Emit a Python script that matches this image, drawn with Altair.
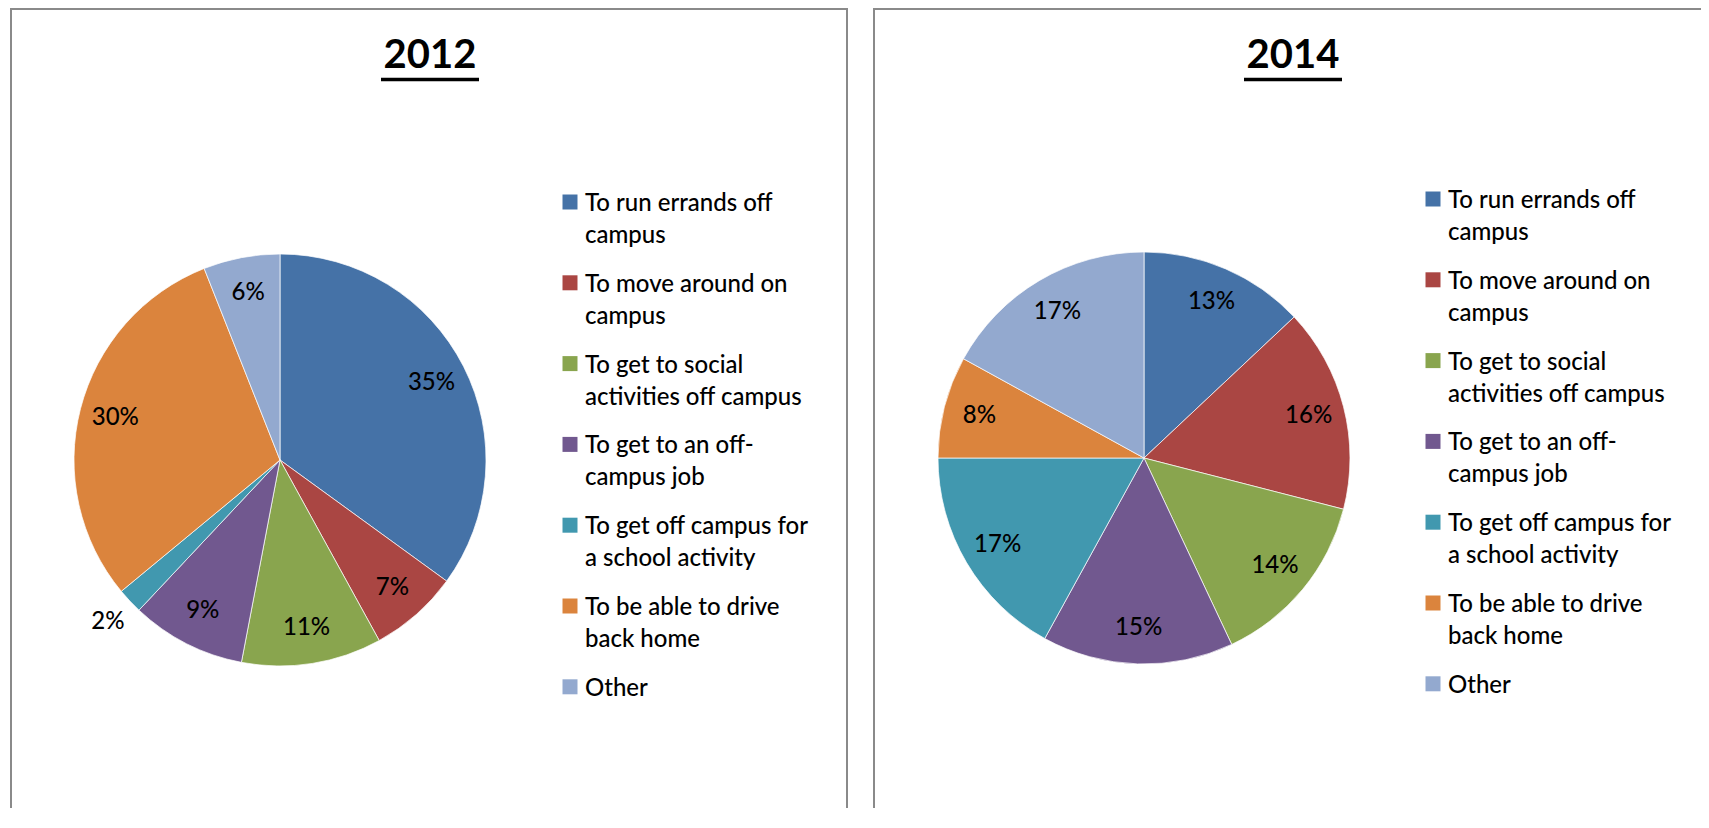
import altair as alt
import pandas as pd

categories = [
    "To run errands off campus",
    "To move around on campus",
    "To get to social activities off campus",
    "To get to an off-campus job",
    "To get off campus for a school activity",
    "To be able to drive back home",
    "Other",
]
legend_lines = [
    "To run errands off|campus",
    "To move around on|campus",
    "To get to social|activities off campus",
    "To get to an off-|campus job",
    "To get off campus for|a school activity",
    "To be able to drive|back home",
    "Other",
]
values_2012 = [35, 7, 11, 9, 2, 30, 6]
values_2014 = [13, 16, 14, 15, 17, 8, 17]
years = ["2012", "2014"]
colors = ["#4572A7", "#AA4643", "#89A54E", "#71588F", "#4198AF", "#DB843D", "#93A9CF"]

FONT = "Lato"
H = 800


def panel(year, values, width, cx, cy, leg_y0):
    df = pd.DataFrame({
        "category": categories,
        "value": values,
        "idx": list(range(len(categories))),
        "wrapped": legend_lines,
    })
    base = alt.Chart(df).transform_calculate(
        label="datum.value + '%'",
        lines="split(datum.wrapped, '|')",
    )
    color = alt.Color("category:N", scale=alt.Scale(domain=categories, range=colors), legend=None)
    theta = alt.Theta("value:Q", stack=True)
    order = alt.Order("idx:Q")

    arcs = base.mark_arc(outerRadius=206, x=cx, y=cy, stroke="white", strokeWidth=0.7).encode(
        theta=theta, color=color, order=order
    )
    labels = base.mark_text(
        x=cx, y=cy, font=FONT, fontSize=24, fontWeight=500, color="black",
        radius=alt.expr("datum.value < 5 ? 236 : 170"),
    ).encode(theta=theta, detail="category:N", order=order, text="label:N")

    yenc = alt.Y(
        "category:N",
        scale=alt.Scale(domain=categories, range=[leg_y0, leg_y0 + 6 * 80.8], padding=0),
        axis=None,
    )
    squares = base.mark_square(size=225, x=560, opacity=1, filled=True).encode(y=yenc, color=color)
    leg_text = base.mark_text(
        x=575, align="left", baseline="top", dy=-10, font=FONT, fontSize=24, fontWeight=500,
        lineHeight=32, color="black",
    ).encode(y=yenc, text="lines:N")

    one = alt.Data(values=[{"year": year}])
    title_text = alt.Chart(one).mark_text(
        x=420, y=60, font=FONT, fontWeight="bold", fontSize=40,
        baseline="alphabetic", align="center", color="black",
    ).encode(text="year:N")
    underline = alt.Chart(one).mark_rule(strokeWidth=3.5, color="black").encode(
        x=alt.value(371), x2=alt.value(469), y=alt.value(71.5)
    )
    border = alt.Chart(one).mark_rect(
        filled=False, stroke="#8A8A8A", strokeWidth=2, clip=True
    ).encode(
        x=alt.value(1), x2=alt.value(width - 1 if width > 833 else width + 20),
        y=alt.value(1), y2=alt.value(H + 20),
    )
    return alt.layer(border, arcs, labels, squares, leg_text, title_text, underline).properties(
        width=width, height=H
    )


left = panel(years[0], values_2012, 838, 270, 452, 194)
right = panel(years[1], values_2014, 828, 271, 450, 191)

chart = alt.hconcat(left, right, spacing=25).properties(
    padding={"left": 2, "top": 0, "right": 0, "bottom": 0}
).configure_view(strokeOpacity=0)

chart.save("out.html", embed_options={"renderer": "svg", "actions": False})
